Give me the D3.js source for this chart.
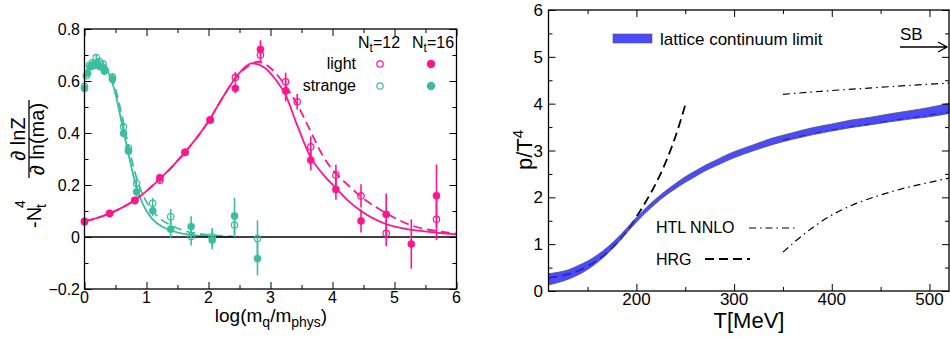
<!DOCTYPE html>
<html>
<head>
<meta charset="utf-8">
<script src="https://cdn.jsdelivr.net/npm/d3@7"></script>
<style>
body { margin: 0; background: #fff; }
svg text { font-family: "Liberation Sans", Arial, sans-serif; fill: #000; }
.axis path { display: none; }
.axis line { stroke: #000; stroke-width: 1; }
</style>
</head>
<body>
<script>
// ---------- left panel data ----------
var lightX16 = [0, 0.405, 0.811, 1.216, 1.622, 2.027, 2.433, 2.838, 3.244, 3.649, 4.055, 4.46, 4.866, 5.271, 5.677];
var lightNt16 = [0.059, 0.091, 0.141, 0.228, 0.326, 0.45, 0.572, 0.722, 0.562, 0.296, 0.183, 0.062, 0.087, -0.027, 0.159];
var lightErr16 = [0.008, 0.008, 0.01, 0.01, 0.01, 0.012, 0.02, 0.035, 0.04, 0.04, 0.04, 0.045, 0.08, 0.095, 0.12];

var lightX12 = [0, 0.405, 0.811, 1.216, 1.622, 2.027, 2.433, 2.838, 3.244, 3.43, 3.649, 4.055, 4.46, 4.866, 5.677];
var lightNt12 = [0.06, 0.09, 0.14, 0.218, 0.326, 0.45, 0.614, 0.70, 0.597, 0.52, 0.347, 0.238, 0.158, 0.014, 0.068];
var lightErr12 = [0.008, 0.008, 0.01, 0.01, 0.01, 0.012, 0.02, 0.03, 0.035, 0.03, 0.04, 0.04, 0.045, 0.05, 0.08];

var strangeX16 = [0, 0.05, 0.1, 0.15, 0.2, 0.25, 0.32, 0.45, 0.63, 0.71, 0.84, 1.1, 1.39, 1.72, 2.06, 2.42, 2.79];
var strangeNt16 = [0.572, 0.63, 0.655, 0.66, 0.662, 0.655, 0.638, 0.607, 0.399, 0.33, 0.174, 0.101, 0.03, 0.04, -0.012, 0.081, -0.083];
var strangeErr16 = [0.012, 0.01, 0.01, 0.01, 0.01, 0.01, 0.015, 0.015, 0.015, 0.015, 0.02, 0.02, 0.035, 0.04, 0.035, 0.07, 0.065];

var strangeX12 = [0, 0.03, 0.08, 0.13, 0.19, 0.24, 0.3, 0.45, 0.63, 0.71, 0.84, 1.1, 1.39, 1.72, 2.06, 2.42, 2.79];
var strangeNt12 = [0.58, 0.62, 0.66, 0.67, 0.69, 0.675, 0.665, 0.615, 0.424, 0.341, 0.206, 0.13, 0.078, 0.002, 0.0, 0.046, -0.006];
var strangeErr12 = [0.012, 0.01, 0.01, 0.01, 0.01, 0.01, 0.015, 0.015, 0.015, 0.015, 0.02, 0.02, 0.03, 0.035, 0.035, 0.045, 0.07];

// fit curves
var lightFitX = [0, 0.4, 0.8, 1.2, 1.6, 2.0, 2.2, 2.4, 2.55, 2.7, 2.9, 3.1, 3.23, 3.43, 3.64, 3.85, 4.05, 4.25, 4.46, 4.86, 5.27, 5.7, 6.0];
var lightFit16 = [0.06, 0.09, 0.14, 0.22, 0.32, 0.445, 0.525, 0.6, 0.645, 0.668, 0.652, 0.6, 0.553, 0.43, 0.31, 0.24, 0.19, 0.14, 0.1, 0.05, 0.028, 0.016, 0.01];
var lightFitX12 = [0, 0.4, 0.8, 1.2, 1.6, 2.0, 2.2, 2.4, 2.6, 2.8, 3.0, 3.23, 3.43, 3.64, 3.85, 4.05, 4.25, 4.46, 4.7, 4.86, 5.27, 5.6, 6.0];
var lightFit12 = [0.06, 0.09, 0.14, 0.22, 0.32, 0.445, 0.525, 0.6, 0.65, 0.674, 0.65, 0.585, 0.51, 0.41, 0.31, 0.245, 0.2, 0.155, 0.115, 0.092, 0.045, 0.026, 0.013];

var strangeFitX = [0, 0.1, 0.2, 0.3, 0.4, 0.5, 0.6, 0.7, 0.8, 0.9, 1.0, 1.1, 1.25, 1.4, 1.6, 1.8, 2.1, 2.4];
var strangeFit16 = [0.62, 0.66, 0.672, 0.66, 0.625, 0.55, 0.44, 0.33, 0.225, 0.15, 0.1, 0.068, 0.04, 0.024, 0.012, 0.006, 0.002, 0];
var strangeFit12 = [0.625, 0.665, 0.68, 0.67, 0.635, 0.57, 0.47, 0.36, 0.26, 0.185, 0.135, 0.1, 0.065, 0.045, 0.025, 0.014, 0.006, 0.002];

var leftXTicks = [0, 1, 2, 3, 4, 5, 6];
var leftYTicks = [-0.2, 0, 0.2, 0.4, 0.6, 0.8];

// ---------- right panel data ----------
var bandT = [110, 120, 130, 140, 150, 160, 170, 180, 190, 200, 210, 220, 230, 240, 250, 260, 270, 280, 290, 300, 320, 340, 360, 380, 400, 420, 440, 460, 480, 500, 520];
var bandLow = [0.13, 0.18, 0.25, 0.34, 0.46, 0.61, 0.79, 1.0, 1.24, 1.47, 1.68, 1.87, 2.04, 2.185, 2.32, 2.44, 2.56, 2.66, 2.755, 2.845, 2.995, 3.13, 3.24, 3.335, 3.415, 3.49, 3.55, 3.615, 3.67, 3.72, 3.79];
var bandHigh = [0.37, 0.40, 0.45, 0.54, 0.64, 0.77, 0.93, 1.12, 1.34, 1.57, 1.78, 1.97, 2.14, 2.295, 2.44, 2.56, 2.68, 2.78, 2.885, 2.975, 3.125, 3.27, 3.38, 3.485, 3.565, 3.65, 3.71, 3.785, 3.85, 3.92, 4.01];

var hrgT = [110, 120, 130, 140, 150, 160, 170, 180, 190, 200, 210, 220, 230, 240, 250];
var hrgP = [0.28, 0.31, 0.36, 0.43, 0.53, 0.66, 0.82, 1.02, 1.27, 1.58, 1.92, 2.3, 2.75, 3.3, 3.97];

var htlUpT = [350, 400, 450, 520];
var htlUp = [4.2, 4.28, 4.35, 4.44];
var htlMidT = [350, 400, 450, 500, 520];
var htlMid = [3.22, 3.44, 3.6, 3.76, 3.82];
var htlLowT = [350, 375, 400, 425, 450, 475, 500, 520];
var htlLow = [0.83, 1.27, 1.62, 1.87, 2.05, 2.2, 2.32, 2.41];

var rightXTicks = [200, 300, 400, 500];
var rightYTicks = [0, 1, 2, 3, 4, 5, 6];

var pink = "#ff1590", teal = "#3dbd9f";

var svg = d3.select("body").append("svg").attr("width", 950).attr("height", 337);

// ticks on all four sides, pointing in
function frame(x, y, xMaj, xMin, yMaj, yMin) {
    var x0 = x.range()[0], x1 = x.range()[1], y0 = y.range()[0], y1 = y.range()[1];
    var defs = [
        [d3.axisBottom(x), "translate(0," + y0 + ")", xMaj, xMin],
        [d3.axisTop(x), "translate(0," + y1 + ")", xMaj, xMin],
        [d3.axisLeft(y), "translate(" + x0 + ",0)", yMaj, yMin],
        [d3.axisRight(y), "translate(" + x1 + ",0)", yMaj, yMin]
    ];
    defs.forEach(function (d) {
        svg.append("g").attr("class", "axis").attr("transform", d[1])
            .call(d[0].tickValues(d[2]).tickSize(-7).tickFormat(""));
        svg.append("g").attr("class", "axis").attr("transform", d[1])
            .call(d[0].tickValues(d[3]).tickSize(-4).tickFormat(""));
    });
    svg.append("rect").attr("x", x0).attr("y", y1)
        .attr("width", x1 - x0).attr("height", y0 - y1)
        .attr("fill", "none").attr("stroke", "#000").attr("stroke-width", 1.3);
}

// ================= LEFT PANEL =================
var xL = d3.scaleLinear().domain([0, 6]).range([84.5, 456.5]);
var yL = d3.scaleLinear().domain([-0.2, 0.8]).range([289, 29]);

var gl = svg.append("g");

function curve(g, xs, ys, color, dash) {
    var line = d3.line().x(function (d, i) { return xL(xs[i]); })
        .y(function (d) { return yL(d); }).curve(d3.curveMonotoneX);
    g.append("path").attr("d", line(ys)).attr("fill", "none")
        .attr("stroke", color).attr("stroke-width", 1.8)
        .attr("stroke-dasharray", dash || null);
}
curve(gl, strangeFitX, strangeFit16, teal);
curve(gl, strangeFitX, strangeFit12, teal, "9,5");
curve(gl, lightFitX, lightFit16, pink);
curve(gl, lightFitX12, lightFit12, pink, "9,5");

// zero line
gl.append("line").attr("x1", xL(0)).attr("x2", xL(6))
    .attr("y1", yL(0)).attr("y2", yL(0)).attr("stroke", "#000").attr("stroke-width", 1.3);

function points(g, xs, ys, errs, color, open) {
    var sel = g.append("g").selectAll("g").data(ys).enter().append("g");
    sel.append("line")
        .attr("x1", function (d, i) { return xL(xs[i]); })
        .attr("x2", function (d, i) { return xL(xs[i]); })
        .attr("y1", function (d, i) { return yL(d - errs[i]); })
        .attr("y2", function (d, i) { return yL(d + errs[i]); })
        .attr("stroke", color).attr("stroke-width", 1.6);
    sel.append("circle")
        .attr("cx", function (d, i) { return xL(xs[i]); })
        .attr("cy", function (d) { return yL(d); })
        .attr("r", open ? 3.2 : 3.6)
        .attr("fill", open ? "#fff" : color)
        .attr("fill-opacity", open ? 0 : 1)
        .attr("stroke", color).attr("stroke-width", open ? 1.2 : 0.5);
}
points(gl, strangeX12, strangeNt12, strangeErr12, teal, true);
points(gl, strangeX16, strangeNt16, strangeErr16, teal, false);
points(gl, lightX12, lightNt12, lightErr12, pink, true);
points(gl, lightX16, lightNt16, lightErr16, pink, false);

frame(xL, yL, leftXTicks, d3.range(0.5, 6, 1), leftYTicks, d3.range(-0.1, 0.8, 0.2));

gl.selectAll(".xl").data(leftXTicks).enter().append("text")
    .attr("x", function (d) { return xL(d); }).attr("y", 303)
    .attr("text-anchor", "middle").attr("font-size", 16).text(function (d) { return d; });
gl.selectAll(".yl").data(leftYTicks).enter().append("text")
    .attr("x", 80).attr("y", function (d) { return yL(d) + 6; })
    .attr("text-anchor", "end").attr("font-size", 16)
    .text(function (d) { return d === 0 ? "0" : d3.format(".1f")(d); });

// x axis title
var xt = gl.append("text").attr("x", 271).attr("y", 322).attr("text-anchor", "middle").attr("font-size", 19);
xt.append("tspan").text("log(m");
xt.append("tspan").attr("dy", 5).attr("font-size", 14).text("q");
xt.append("tspan").attr("dy", -5).text("/m");
xt.append("tspan").attr("dy", 5).attr("font-size", 14).text("phys");
xt.append("tspan").attr("dy", -5).text(")");

// y axis title (rotated)
var yt = gl.append("g").attr("transform", "rotate(-90)");
yt.append("text").attr("x", -228).attr("y", 41).attr("font-size", 20).text("-N");
yt.append("text").attr("x", -208).attr("y", 46).attr("font-size", 14).text("t");
yt.append("text").attr("x", -208).attr("y", 25).attr("font-size", 14).text("4");
yt.append("text").attr("x", -139).attr("y", 25).attr("text-anchor", "middle").attr("font-size", 20).text("\u2202 lnZ");
yt.append("line").attr("x1", -178).attr("x2", -100).attr("y1", 29).attr("y2", 29)
    .attr("stroke", "#000").attr("stroke-width", 1.3);
yt.append("text").attr("x", -139).attr("y", 44).attr("text-anchor", "middle").attr("font-size", 20).text("\u2202 ln(ma)");

// legend
function sub(g, x, y, main, s, rest) {
    var t = g.append("text").attr("x", x).attr("y", y).attr("font-size", 16);
    t.append("tspan").text(main);
    t.append("tspan").attr("dy", 4).attr("font-size", 12).text(s);
    t.append("tspan").attr("dy", -4).text(rest);
}
sub(gl, 358, 48, "N", "t", "=12");
sub(gl, 412, 48, "N", "t", "=16");
gl.append("text").attr("x", 356).attr("y", 69).attr("text-anchor", "end").attr("font-size", 16).text("light");
gl.append("text").attr("x", 356).attr("y", 91).attr("text-anchor", "end").attr("font-size", 16).text("strange");
var legPts = [[380, 64, pink, true], [431, 64, pink, false], [380, 86, teal, true], [431, 86, teal, false]];
gl.selectAll(".lp").data(legPts).enter().append("circle")
    .attr("cx", function (d) { return d[0]; }).attr("cy", function (d) { return d[1]; })
    .attr("r", function (d) { return d[3] ? 3.2 : 3.6; })
    .attr("fill", function (d) { return d[3] ? "none" : d[2]; })
    .attr("stroke", function (d) { return d[2]; }).attr("stroke-width", 1.2);

// ================= RIGHT PANEL =================
var xR = d3.scaleLinear().domain([110, 520]).range([548.5, 949]);
var yR = d3.scaleLinear().domain([0, 6]).range([291, 10]);
var gr = svg.append("g");

function rline(ts, ps, dash, w) {
    var line = d3.line().x(function (d, i) { return xR(ts[i]); })
        .y(function (d) { return yR(d); }).curve(d3.curveMonotoneX);
    gr.append("path").attr("d", line(ps)).attr("fill", "none")
        .attr("stroke", "#000").attr("stroke-width", w || 1.2).attr("stroke-dasharray", dash);
}
rline(hrgT, hrgP, "9,5", 1.8);
rline(htlUpT, htlUp, "7,4,1.5,4");
rline(htlMidT, htlMid, "7,4,1.5,4");
rline(htlLowT, htlLow, "7,4,1.5,4");

var area = d3.area().x(function (d, i) { return xR(bandT[i]); })
    .y0(function (d, i) { return yR(bandLow[i]); })
    .y1(function (d, i) { return yR(bandHigh[i]); })
    .curve(d3.curveMonotoneX);
gr.append("path").attr("d", area(bandT)).attr("fill", "#2a2aff").attr("fill-opacity", 0.85)
    .attr("stroke", "#555").attr("stroke-width", 0.8);

frame(xR, yR, rightXTicks, d3.range(150, 520, 100), rightYTicks, d3.range(0.5, 6, 1));

gr.selectAll(".xr").data(rightXTicks).enter().append("text")
    .attr("x", function (d) { return xR(d); }).attr("y", 305)
    .attr("text-anchor", "middle").attr("font-size", 17).text(function (d) { return d; });
gr.selectAll(".yr").data(rightYTicks).enter().append("text")
    .attr("x", 543).attr("y", function (d) { return yR(d) + 6; })
    .attr("text-anchor", "end").attr("font-size", 17).text(function (d) { return d; });

gr.append("text").attr("x", 749).attr("y", 328).attr("text-anchor", "middle")
    .attr("font-size", 22).text("T[MeV]");
var pt = gr.append("text").attr("transform", "translate(532,170) rotate(-90)").attr("font-size", 22);
pt.append("tspan").text("p/T");
pt.append("tspan").attr("dy", -9).attr("font-size", 15).text("4");

// legend and annotations
gr.append("rect").attr("x", 613).attr("y", 34).attr("width", 39).attr("height", 9)
    .attr("fill", "#2a2aff").attr("fill-opacity", 0.85).attr("stroke", "#555").attr("stroke-width", 0.6);
gr.append("text").attr("x", 660).attr("y", 45).attr("font-size", 17).text("lattice continuum limit");

gr.append("text").attr("x", 900).attr("y", 40).attr("font-size", 17).text("SB");
gr.append("path").attr("d", "M900,47H947M938,42L947,47L938,52")
    .attr("fill", "none").attr("stroke", "#000").attr("stroke-width", 1.3);

gr.append("text").attr("x", 656).attr("y", 233).attr("font-size", 16).text("HTL NNLO");
gr.append("line").attr("x1", 749).attr("x2", 796).attr("y1", 228).attr("y2", 228)
    .attr("stroke", "#000").attr("stroke-width", 1.2).attr("stroke-dasharray", "7,4,1.5,4");
gr.append("text").attr("x", 656).attr("y", 265).attr("font-size", 16).text("HRG");
gr.append("line").attr("x1", 705).attr("x2", 750).attr("y1", 259).attr("y2", 259)
    .attr("stroke", "#000").attr("stroke-width", 1.8).attr("stroke-dasharray", "9,5");
</script>
</body>
</html>
